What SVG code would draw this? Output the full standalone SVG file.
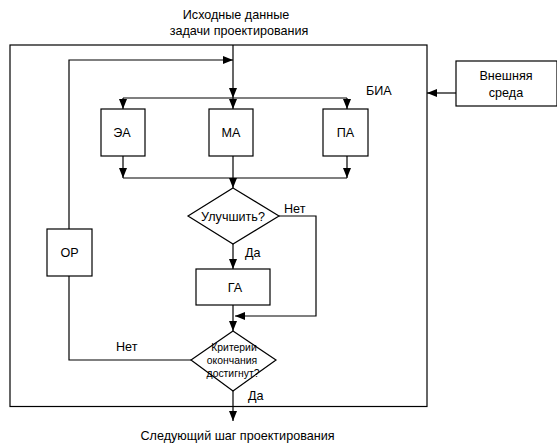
<svg xmlns="http://www.w3.org/2000/svg" width="557" height="443" viewBox="0 0 557 443">
<style>
.b{fill:#fff;stroke:#000;stroke-width:1.2}
.l{fill:none;stroke:#000;stroke-width:1.2}
text{font-family:"Liberation Sans",Arial,sans-serif;font-size:12.6px;fill:#000}
.m{text-anchor:middle}
.s{font-size:10.4px}
</style>
<defs>
<marker id="a" viewBox="0 0 10 8" refX="10" refY="4" markerWidth="10" markerHeight="8" markerUnits="userSpaceOnUse" orient="auto">
<path d="M0,0L10,4L0,8Z" fill="#000"/>
</marker>
</defs>
<g id="bia"><rect class="b" x="10" y="45" width="417" height="361.5"/><text x="366" y="95">БИА</text></g>
<g id="top-text"><text class="m" x="236" y="19">Исходные данные</text><text class="m" x="239" y="35">задачи проектирования</text></g>
<g id="bottom-text"><text class="m" x="237.5" y="440">Следующий шаг проектирования</text></g>
<g id="connectors">
<path class="l" d="M233,45V98" marker-end="url(#a)"/>
<path class="l" d="M69,229V60H233" marker-end="url(#a)"/>
<path class="l" d="M123,98H347"/>
<path class="l" d="M123,98V109" marker-end="url(#a)"/>
<path class="l" d="M233,98V109" marker-end="url(#a)"/>
<path class="l" d="M347,98V109" marker-end="url(#a)"/>
<path class="l" d="M123,156V178" marker-end="url(#a)"/>
<path class="l" d="M347,156V178" marker-end="url(#a)"/>
<path class="l" d="M123,178H347"/>
<path class="l" d="M233,156V188" marker-end="url(#a)"/>
<path class="l" d="M233,244V269" marker-end="url(#a)"/>
<path class="l" d="M279,216H316V316H235" marker-end="url(#a)"/>
<path class="l" d="M233,305V331" marker-end="url(#a)"/>
<path class="l" d="M69,276V360H191"/>
<path class="l" d="M233,391V421" marker-end="url(#a)"/>
<path class="l" d="M456,93H427" marker-end="url(#a)"/>
<text x="284" y="213">Нет</text>
<text x="245" y="257">Да</text>
<text x="116" y="351">Нет</text>
<text x="248" y="400">Да</text>
</g>
<g id="ea"><rect class="b" x="101" y="109" width="44" height="47"/><text class="m" x="122" y="137">ЭА</text></g>
<g id="ma"><rect class="b" x="209" y="109" width="44" height="47"/><text class="m" x="231" y="137">МА</text></g>
<g id="pa"><rect class="b" x="323" y="109" width="45" height="47"/><text class="m" x="345.5" y="137">ПА</text></g>
<g id="or"><rect class="b" x="47" y="229" width="45" height="47"/><text class="m" x="69.5" y="257">ОР</text></g>
<g id="ga"><rect class="b" x="196" y="269" width="74" height="36"/><text class="m" x="235" y="292">ГА</text></g>
<g id="improve"><path class="b" d="M233,188L279,216L233,244L188,216Z"/><text class="m" x="233" y="221">Улучшить?</text></g>
<g id="criteria"><path class="b" d="M233,331L276,360L233,391L191,360Z"/><text class="m s" x="234" y="351">Критерии</text><text class="m s" x="232" y="364">окончания</text><text class="m s" x="233" y="377">достигнут?</text></g>
<g id="env"><rect class="b" x="456" y="61" width="101" height="45"/><text class="m" x="506" y="80">Внешняя</text><text class="m" x="506" y="97">среда</text></g>
</svg>
